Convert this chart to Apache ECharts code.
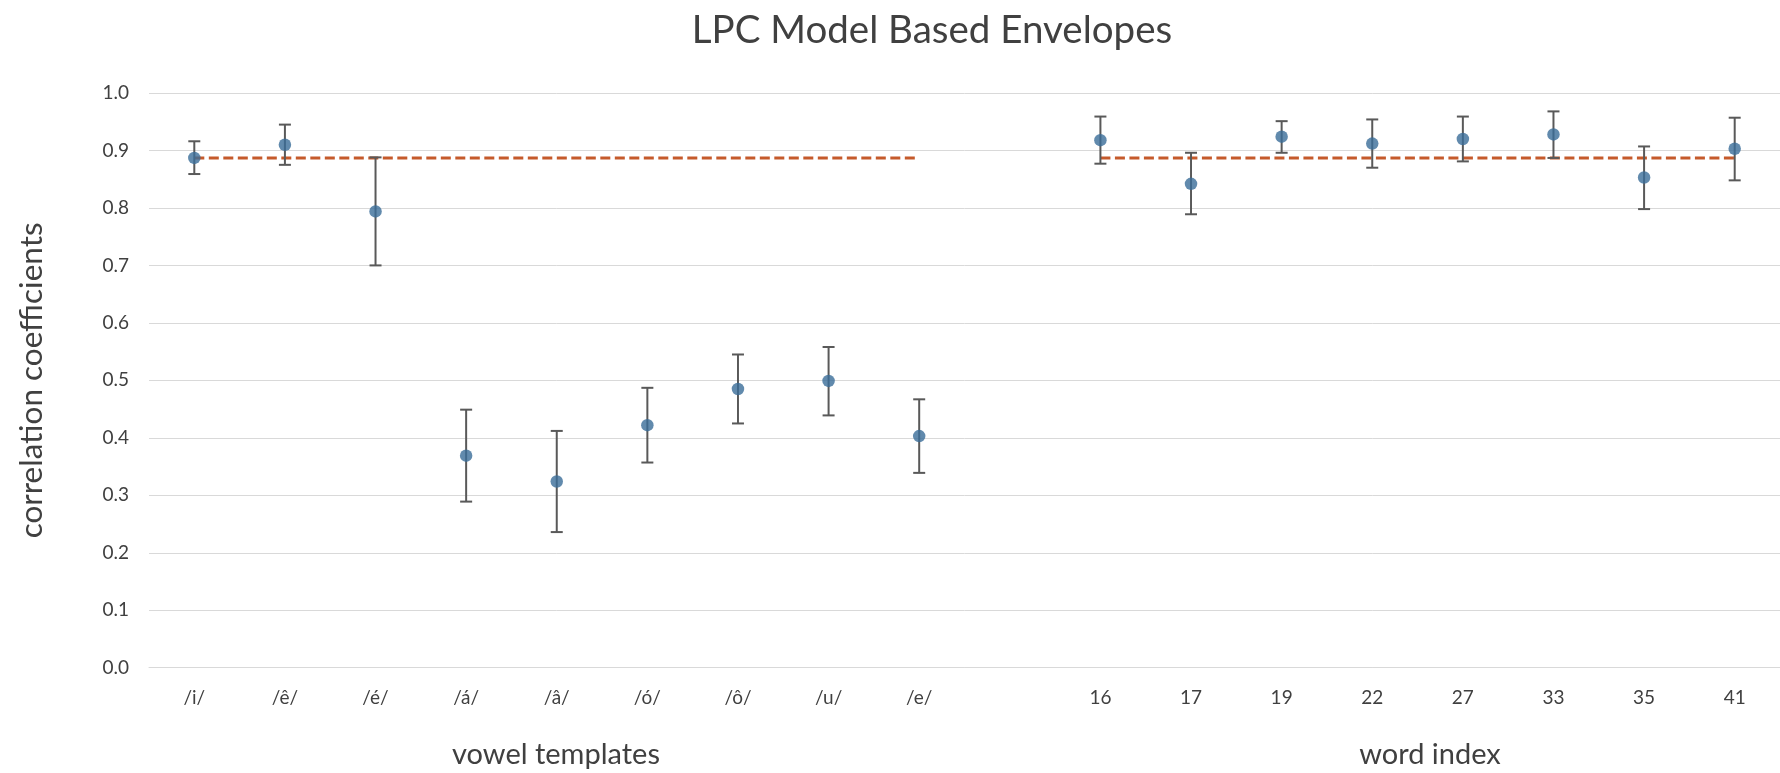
<!DOCTYPE html>
<html>
<head>
<meta charset="utf-8">
<script src="https://cdn.jsdelivr.net/npm/echarts@6/dist/echarts.min.js"></script>
<style>
html,body{margin:0;padding:0;background:#fff;}
#chart{width:1780px;height:773px;}
</style>
</head>
<body>
<div id="chart"></div>
<script>
// ---- data ----
const categories = ['/i/','/ê/','/é/','/á/','/â/','/ó/','/ô/','/u/','/e/','','16','17','19','22','27','33','35','41'];
const means = [0.887,0.910,0.794,0.369,0.324,0.422,0.485,0.499,0.403,null,0.918,0.842,0.924,0.912,0.920,0.928,0.853,0.903];
const upper = [0.916,0.945,0.888,0.449,0.412,0.487,0.545,0.558,0.467,null,0.959,0.896,0.951,0.954,0.959,0.968,0.907,0.957];
const lower = [0.859,0.875,0.700,0.289,0.236,0.357,0.425,0.439,0.339,null,0.877,0.789,0.896,0.870,0.881,0.887,0.798,0.848];
const reference = [0.887,0.887,0.887,0.887,0.887,0.887,0.887,0.887,0.887,null,0.887,0.887,0.887,0.887,0.887,0.887,0.887,0.887];
const yTicks = [0,0.1,0.2,0.3,0.4,0.5,0.6,0.7,0.8,0.9,1.0];
const groupNames = ['vowel templates','word index'];

const FONT = 'Lato';
const TXT = '#404040';

const errData = categories.map((c,i)=> means[i]==null ? [i,null,null] : [i,lower[i],upper[i]]);

const chart = echarts.init(document.getElementById('chart'));
chart.setOption({
  animation:false,
  backgroundColor:'#fff',
  title:[
    {text:'LPC Model Based Envelopes', left:927, top:6, textAlign:'center',
     textStyle:{fontFamily:FONT,fontSize:38.5,fontWeight:'normal',color:TXT}},
    {text:groupNames[0], left:551, top:735, textAlign:'center',
     textStyle:{fontFamily:FONT,fontSize:29,fontWeight:'normal',color:TXT}},
    {text:groupNames[1], left:1425, top:735, textAlign:'center',
     textStyle:{fontFamily:FONT,fontSize:29,fontWeight:'normal',color:TXT}}
  ],
  grid:{left:149, top:93, width:1640, height:574.7, containLabel:false},
  xAxis:{
    type:'category', data:categories, boundaryGap:true,
    axisLine:{show:true,lineStyle:{color:'#D9D9D9',width:1}},
    axisTick:{show:false},
    axisLabel:{interval:0, margin:21, fontFamily:FONT, fontSize:19, color:TXT},
    splitLine:{show:false}
  },
  yAxis:{
    type:'value', min:0, max:1, interval:0.1,
    name:'correlation coefficients', nameLocation:'middle', nameRotate:90, nameGap:101,
    nameTextStyle:{fontFamily:FONT,fontSize:31.5,color:TXT},
    axisLine:{show:false}, axisTick:{show:false},
    axisLabel:{margin:20, fontFamily:FONT, fontSize:19, color:TXT,
      formatter:v=>v.toFixed(1)},
    splitLine:{show:true,lineStyle:{color:'#D9D9D9',width:1}}
  },
  series:[
    {
      type:'line', data:reference, z:2, symbol:'none', connectNulls:false,
      lineStyle:{color:'#C55A2B', width:3, type:[10,4.5]}
    },
    {
      type:'custom', z:3, data:errData,
      renderItem:function(params, api){
        const lo = api.value(1), hi = api.value(2);
        if (lo == null || hi == null || isNaN(lo) || isNaN(hi)) return null;
        const x = api.value(0);
        const pLo = api.coord([x, lo]);
        const pHi = api.coord([x, hi]);
        const hw = 6;
        const st = {stroke:'#595959', lineWidth:2, fill:null};
        return {type:'group', children:[
          {type:'line', shape:{x1:pLo[0],y1:pLo[1],x2:pHi[0],y2:pHi[1]}, style:st},
          {type:'line', shape:{x1:pLo[0]-hw,y1:pLo[1],x2:pLo[0]+hw,y2:pLo[1]}, style:st},
          {type:'line', shape:{x1:pHi[0]-hw,y1:pHi[1],x2:pHi[0]+hw,y2:pHi[1]}, style:st}
        ]};
      }
    },
    {
      type:'scatter', data:means, z:4, symbol:'circle', symbolSize:12.5,
      itemStyle:{color:'#3A6D99'}
    }
  ]
});
</script>
</body>
</html>
